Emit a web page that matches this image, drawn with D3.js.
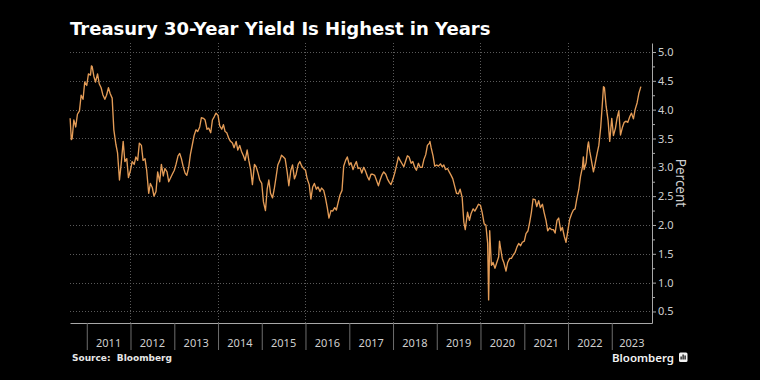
<!DOCTYPE html>
<html>
<head>
<meta charset="utf-8">
<script src="https://cdn.jsdelivr.net/npm/d3@7"></script>
<style>
  html, body { margin: 0; padding: 0; background: #000; }
  svg { display: block; }
</style>
</head>
<body>
<div id="app"></div>
<script>

//
// Data
//

// 30-year Treasury yield, percent, read off the chart on the 1st and 15th
// of every month, starting 15 Aug 2010
const yields = [
  // 2010 (Aug 15 .. Dec 15)
  3.85, 3.50, 3.82, 3.70, 3.92, 3.98, 4.25, 4.18, 4.48,
  // 2011
  4.42, 4.62, 4.60, 4.75, 4.58, 4.48, 4.62, 4.45, 4.38, 4.26, 4.18, 4.25,
  4.38, 4.28, 4.20, 3.65, 3.40, 3.25, 2.78, 3.05, 3.45, 3.10, 3.15, 2.82,
  // 2012
  2.95, 3.10, 3.05, 3.18, 3.12, 3.42, 3.38, 3.12, 3.15, 2.95, 2.55, 2.72,
  2.65, 2.50, 2.58, 2.92, 2.75, 3.05, 2.85, 2.98, 2.92, 2.75, 2.82, 2.88,
  // 2013
  2.95, 3.05, 3.20, 3.24, 3.15, 3.02, 2.90, 2.86, 3.00, 3.22, 3.40, 3.55,
  3.65, 3.62, 3.70, 3.86, 3.85, 3.82, 3.66, 3.68, 3.60, 3.82, 3.88, 3.94,
  // 2014
  3.90, 3.72, 3.66, 3.74, 3.62, 3.60, 3.50, 3.45, 3.42, 3.34, 3.45, 3.30,
  3.38, 3.28, 3.20, 3.12, 3.30, 3.12, 2.95, 2.70, 3.05, 3.01, 2.90, 2.78,
  // 2015
  2.72, 2.40, 2.25, 2.62, 2.78, 2.55, 2.47, 2.62, 2.84, 3.04, 3.12, 3.21,
  3.18, 3.15, 2.92, 2.68, 2.95, 3.04, 2.80, 2.88, 3.05, 3.10, 3.02, 2.98,
  // 2016
  2.95, 2.80, 2.70, 2.45, 2.66, 2.72, 2.62, 2.66, 2.58, 2.64, 2.60, 2.48,
  2.30, 2.12, 2.25, 2.24, 2.30, 2.26, 2.40, 2.52, 2.60, 3.02, 3.12, 3.18,
  // 2017
  3.04, 3.08, 2.96, 3.04, 3.10, 2.98, 2.99, 2.90, 3.00, 2.94, 2.84, 2.78,
  2.88, 2.88, 2.86, 2.78, 2.68, 2.78, 2.87, 2.92, 2.88, 2.80, 2.74, 2.70,
  // 2018
  2.80, 2.90, 3.05, 3.18, 3.12, 3.07, 3.01, 3.10, 3.20, 3.18, 3.07, 3.10,
  3.00, 2.95, 3.07, 3.00, 3.00, 3.13, 3.22, 3.38, 3.42, 3.34, 3.20, 3.02,
  // 2019
  3.04, 3.02, 3.06, 3.01, 3.04, 2.96, 2.98, 2.92, 2.86, 2.80, 2.66, 2.55,
  2.54, 2.62, 2.48, 2.05, 2.00, 2.22, 2.08, 2.20, 2.28, 2.24, 2.30, 2.36,
  // 2020
  2.34, 2.22, 2.02, 2.00, 1.68, 1.40, 1.30, 1.35, 1.25, 1.34, 1.45, 1.62,
  1.42, 1.34, 1.20, 1.35, 1.42, 1.42, 1.48, 1.52, 1.62, 1.68, 1.64, 1.70,
  // 2021
  1.72, 1.85, 1.90, 2.05, 2.22, 2.45, 2.44, 2.32, 2.42, 2.30, 2.36, 2.22,
  2.08, 1.90, 1.95, 1.92, 1.92, 1.86, 2.08, 2.12, 1.90, 1.96, 1.80, 1.70,
  // 2022
  1.92, 2.10, 2.20, 2.26, 2.28, 2.45, 2.62, 2.84, 3.00, 2.96, 3.08, 3.38,
  3.28, 3.12, 2.92, 3.06, 3.24, 3.38, 3.70, 4.12, 4.38, 4.06, 3.82, 3.45,
  // 2023 (Jan 1 .. Sep 1)
  3.85, 3.55, 3.68, 3.86, 3.98, 3.56, 3.70, 3.78, 3.80, 3.78, 3.88, 3.94,
  3.84, 4.00, 4.12, 4.28, 4.40,
]

// daily extremes that fall between those dates
const spikeDates = ['2010-08-25', '2011-02-09', '2018-11-05', '2019-08-27',
  '2020-03-09', '2020-03-18', '2020-06-08', '2022-05-09', '2022-06-21', '2022-10-24']
const spikeValues = [3.48, 4.76, 3.45, 1.92, 0.70, 1.90, 1.72, 3.18, 3.44, 4.40]

const yTicks = [0.5, 1.0, 1.5, 2.0, 2.5, 3.0, 3.5, 4.0, 4.5, 5.0]
const yMinorTicks = [0.75, 1.25, 1.75, 2.25, 2.75, 3.25, 3.75, 4.25, 4.75]
const years = [2011, 2012, 2013, 2014, 2015, 2016, 2017, 2018, 2019, 2020, 2021, 2022, 2023]
const gridYears = [2012, 2014, 2016, 2018, 2020, 2022]


//
// Constants
//

const width = 760
const height = 380
const margin = { top: 43, right: 108, bottom: 57, left: 70 }
const lineColor = '#e49c57'
const textColor = '#cfcfcf'
const axisColor = '#a8a8a8'
const gridColor = '#5a5a5a'


//
// Series
//

const parse = d3.timeParse('%Y-%m-%d')

const series = yields.map((value, i) => {
  const k = i + 1 // index 0 is the 15th of August 2010
  return { date: new Date(2010, 7 + Math.floor(k / 2), k % 2 ? 15 : 1), value }
})
  .concat(spikeDates.map((d, i) => ({ date: parse(d), value: spikeValues[i] })))
  .sort((a, b) => a.date - b.date)


//
// Scales
//

const x = d3.scaleTime()
  .domain([new Date(2010, 7, 14), new Date(2023, 11, 3)])
  .range([margin.left, width - margin.right])

const y = d3.scaleLinear()
  .domain([0.3, 5.156])
  .range([height - margin.bottom, margin.top])

const [x0, x1] = x.range()
const [yBottom, yTop] = y.range()


//
// Chart
//

const svg = d3.select('#app').append('svg')
  .attr('width', width)
  .attr('height', height)
  .style('background', '#000')

// title
svg.append('text')
  .attr('x', 70)
  .attr('y', 35)
  .attr('fill', '#fff')
  .style('font', "bold 18px 'DejaVu Sans', Verdana, sans-serif")
  .text('Treasury 30-Year Yield Is Highest in Years')

// dotted grid
const grid = svg.append('g')
  .attr('stroke', gridColor)
  .attr('stroke-dasharray', '1,2')
  .attr('stroke-width', 1)

grid.selectAll('line.h').data(yTicks)
  .join('line')
  .attr('class', 'h')
  .attr('x1', x0).attr('x2', x1)
  .attr('y1', d => Math.round(y(d)) + 0.5)
  .attr('y2', d => Math.round(y(d)) + 0.5)

grid.selectAll('line.v').data(gridYears)
  .join('line')
  .attr('class', 'v')
  .attr('x1', d => Math.round(x(new Date(d, 0, 1))) + 0.5)
  .attr('x2', d => Math.round(x(new Date(d, 0, 1))) + 0.5)
  .attr('y1', yTop).attr('y2', yBottom)

// the yield line
const line = d3.line()
  .x(d => x(d.date))
  .y(d => y(d.value))

svg.append('path')
  .datum(series)
  .attr('fill', 'none')
  .attr('stroke', lineColor)
  .attr('stroke-width', 1.35)
  .attr('stroke-linejoin', 'round')
  .attr('d', line)

// right axis, major and minor ticks
const yAxis = svg.append('g')
  .attr('transform', `translate(${x1},0)`)
  .call(d3.axisRight(y).tickValues(yTicks).tickSize(4).tickSizeOuter(0)
    .tickPadding(2).tickFormat(d3.format('.1f')))

svg.append('g')
  .attr('transform', `translate(${x1},0)`)
  .call(d3.axisRight(y).tickValues(yMinorTicks).tickSize(3).tickSizeOuter(0).tickFormat(''))
  .call(g => g.select('.domain').remove())
  .selectAll('line').attr('stroke', axisColor)

yAxis.select('.domain').attr('stroke', axisColor)
yAxis.selectAll('line').attr('stroke', axisColor)
yAxis.selectAll('text')
  .attr('fill', textColor)
  .style('font', "11px 'Noto Sans', sans-serif")

svg.append('text')
  .attr('transform', `translate(${x1 + 24},${(yTop + yBottom) / 2}) rotate(90)`)
  .attr('text-anchor', 'middle')
  .attr('fill', textColor)
  .style('font', "13.5px 'Noto Sans', sans-serif")
  .text('Percent')

// bottom axis: a tick at each new year, label centred in the year
const xAxis = svg.append('g')
  .attr('transform', `translate(0,${yBottom})`)
  .call(d3.axisBottom(x).tickValues(years.map(yr => new Date(yr, 0, 1)))
    .tickSize(27).tickSizeOuter(0).tickFormat(''))

xAxis.select('.domain').attr('stroke', axisColor)
xAxis.selectAll('line').attr('stroke', '#6e6e6e')

svg.append('g').selectAll('text').data(years)
  .join('text')
  .attr('x', yr => {
    const a = Math.max(x0, x(new Date(yr, 0, 1)))
    const b = Math.min(x1, x(new Date(yr + 1, 0, 1)))
    return (a + b) / 2
  })
  .attr('y', yBottom + 24)
  .attr('text-anchor', 'middle')
  .attr('fill', textColor)
  .style('font', "11px 'Noto Sans', sans-serif")
  .text(yr => yr)

// footer
svg.append('text')
  .attr('x', 72)
  .attr('y', 361)
  .attr('fill', '#e6e6e6')
  .style('font', "bold 9px 'DejaVu Sans', Verdana, sans-serif")
  .attr('xml:space', 'preserve')
  .text('Source:  Bloomberg')

svg.append('text')
  .attr('x', 612)
  .attr('y', 362)
  .attr('fill', '#f2f2f2')
  .style('font', "600 11.5px 'Noto Sans', sans-serif")
  .text('Bloomberg')

// little chart icon next to the wordmark
const icon = svg.append('g').attr('transform', 'translate(679,352.5)')
icon.append('rect')
  .attr('width', 8.5).attr('height', 9.5).attr('rx', 1.5)
  .attr('fill', '#f2f2f2')
icon.selectAll('rect.bar').data([3, 5, 4])
  .join('rect')
  .attr('class', 'bar')
  .attr('x', (d, i) => 1.5 + i * 2)
  .attr('y', d => 7 - d)
  .attr('width', 1.2)
  .attr('height', d => d)
  .attr('fill', '#000')

</script>
</body>
</html>
